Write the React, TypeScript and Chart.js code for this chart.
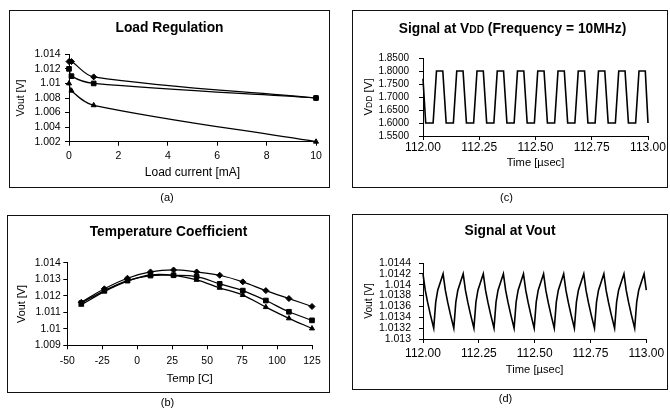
import React, { useEffect, useRef } from "react";
import { Chart, registerables } from "chart.js";

Chart.register(...registerables);

const FONT = "'Liberation Sans', Arial, Helvetica, sans-serif";

// ---------- (a) Load Regulation ----------
const loadCurrent = [0, 0.1, 1, 10];
const loadDiamond = [1.013, 1.013, 1.0109, 1.008];
const loadSquare = [1.012, 1.011, 1.01, 1.008];
const loadTriangle = [1.01, 1.009, 1.007, 1.002];
const loadXTicks = [0, 2, 4, 6, 8, 10];
const loadYTicks = [1.002, 1.004, 1.006, 1.008, 1.01, 1.012, 1.014];

// ---------- (b) Temperature Coefficient ----------
const temps = [-40, -23.5, -7, 9.5, 26, 42.5, 59, 75.5, 92, 108.5, 125];
const tempDiamond = [1.0116, 1.01242, 1.01306, 1.01344, 1.01356, 1.01344, 1.01324, 1.01284, 1.01231, 1.01183, 1.01135];
const tempSquare = [1.01155, 1.01231, 1.01292, 1.01322, 1.01324, 1.01316, 1.01272, 1.01231, 1.01171, 1.01103, 1.01051];
const tempTriangle = [1.01145, 1.01225, 1.01288, 1.01326, 1.01324, 1.01296, 1.01248, 1.01204, 1.01131, 1.01063, 1.01002];
const tempXTicks = [-50, -25, 0, 25, 50, 75, 100, 125];
const tempYTicks = [1.009, 1.01, 1.011, 1.012, 1.013, 1.014];

// ---------- (c) Signal at VDD ----------
const vddTime = [
  112.0, 112.012,
  112.045, 112.06, 112.088, 112.103,
  112.135, 112.15, 112.178, 112.193,
  112.225, 112.24, 112.268, 112.283,
  112.315, 112.33, 112.358, 112.373,
  112.405, 112.42, 112.448, 112.463,
  112.495, 112.51, 112.538, 112.553,
  112.585, 112.6, 112.628, 112.643,
  112.675, 112.69, 112.718, 112.733,
  112.765, 112.78, 112.808, 112.823,
  112.855, 112.87, 112.898, 112.913,
  112.945, 112.96, 112.988, 113.0,
];
const vddValue = [
  1.77, 1.6,
  1.6, 1.8, 1.8, 1.6,
  1.6, 1.8, 1.8, 1.6,
  1.6, 1.8, 1.8, 1.6,
  1.6, 1.8, 1.8, 1.6,
  1.6, 1.8, 1.8, 1.6,
  1.6, 1.8, 1.8, 1.6,
  1.6, 1.8, 1.8, 1.6,
  1.6, 1.8, 1.8, 1.6,
  1.6, 1.8, 1.8, 1.6,
  1.6, 1.8, 1.8, 1.6,
  1.6, 1.8, 1.8, 1.6,
];
const timeXTicks = [112.0, 112.25, 112.5, 112.75, 113.0];
const vddYTicks = [1.55, 1.6, 1.65, 1.7, 1.75, 1.8, 1.85];

// ---------- (d) Signal at Vout ----------
const voutTime = [
  112.0, 112.01, 112.021, 112.033, 112.048, 112.057, 112.066, 112.078,
  112.09, 112.1, 112.111, 112.123, 112.138, 112.147, 112.156, 112.168,
  112.18, 112.19, 112.201, 112.213, 112.228, 112.237, 112.246, 112.258,
  112.27, 112.28, 112.291, 112.303, 112.318, 112.327, 112.336, 112.348,
  112.36, 112.37, 112.381, 112.393, 112.408, 112.417, 112.426, 112.438,
  112.45, 112.46, 112.471, 112.483, 112.498, 112.507, 112.516, 112.528,
  112.54, 112.55, 112.561, 112.573, 112.588, 112.597, 112.606, 112.618,
  112.63, 112.64, 112.651, 112.663, 112.678, 112.687, 112.696, 112.708,
  112.72, 112.73, 112.741, 112.753, 112.768, 112.777, 112.786, 112.798,
  112.81, 112.82, 112.831, 112.843, 112.858, 112.867, 112.876, 112.888,
  112.9, 112.91, 112.921, 112.933, 112.948, 112.957, 112.966, 112.978,
  112.99, 113.0,
];
const voutValue = [
  1.0142, 1.0139, 1.01367, 1.01345, 1.0132, 1.01368, 1.0139, 1.01405,
  1.0142, 1.0139, 1.01367, 1.01345, 1.0132, 1.01368, 1.0139, 1.01405,
  1.0142, 1.0139, 1.01367, 1.01345, 1.0132, 1.01368, 1.0139, 1.01405,
  1.0142, 1.0139, 1.01367, 1.01345, 1.0132, 1.01368, 1.0139, 1.01405,
  1.0142, 1.0139, 1.01367, 1.01345, 1.0132, 1.01368, 1.0139, 1.01405,
  1.0142, 1.0139, 1.01367, 1.01345, 1.0132, 1.01368, 1.0139, 1.01405,
  1.0142, 1.0139, 1.01367, 1.01345, 1.0132, 1.01368, 1.0139, 1.01405,
  1.0142, 1.0139, 1.01367, 1.01345, 1.0132, 1.01368, 1.0139, 1.01405,
  1.0142, 1.0139, 1.01367, 1.01345, 1.0132, 1.01368, 1.0139, 1.01405,
  1.0142, 1.0139, 1.01367, 1.01345, 1.0132, 1.01368, 1.0139, 1.01405,
  1.0142, 1.0139, 1.01367, 1.01345, 1.0132, 1.01368, 1.0139, 1.01405,
  1.0142, 1.0139,
];
const voutYTicks = [1.013, 1.0132, 1.0134, 1.0136, 1.0138, 1.014, 1.0142, 1.0144];

// ---------- helpers ----------
type Box = { l: number; t: number; w: number; h: number };
type Plot = { l: number; t: number; r: number; b: number };
type Seg = { text: string; size: number };

const trim = (v: number, d: number) => String(parseFloat(Number(v).toFixed(d)));
const toXY = (xs: number[], ys: number[]) => xs.map((x, i) => ({ x, y: ys[i] }));

function drawRich(ctx: CanvasRenderingContext2D, segs: Seg[], cx: number, cy: number, rot: boolean, bold: boolean) {
  ctx.save();
  ctx.fillStyle = "#000";
  ctx.textBaseline = "alphabetic";
  ctx.textAlign = "left";
  ctx.translate(cx, cy);
  if (rot) ctx.rotate(-Math.PI / 2);
  const fonts = segs.map((s) => `${bold ? "bold " : ""}${s.size}px ${FONT}`);
  const widths = segs.map((s, i) => {
    ctx.font = fonts[i];
    return ctx.measureText(s.text).width;
  });
  const total = widths.reduce((a, b) => a + b, 0);
  const maxSize = Math.max(...segs.map((s) => s.size));
  let x = -total / 2;
  segs.forEach((s, i) => {
    ctx.font = fonts[i];
    ctx.fillText(s.text, x, maxSize * 0.36);
    x += widths[i];
  });
  ctx.restore();
}

interface AxisSpec {
  min: number;
  max: number;
  ticks: number[];
  fmt: (v: number) => string;
  tickSize: number;
  tickPad: number;
  title?: string;
  titleSize: number;
  titleOffset: number;
}

interface ChartSpec {
  box: Box;
  plot: Plot;
  title?: string;
  titleSize: number;
  titleCenter: number;
  x: AxisSpec;
  y: AxisSpec;
  datasets: any[];
  extra?: (ctx: CanvasRenderingContext2D, w: number, h: number) => void;
}

function buildConfig(s: ChartSpec): any {
  const W = s.box.w;
  const H = s.box.h;
  const side = W - s.plot.r;
  const tLH = s.titleSize * 1.2;
  const xLH = s.x.titleSize * 1.2;
  const yLH = s.y.titleSize * 1.2;
  const axisCommon = {
    grid: { drawOnChartArea: false, drawTicks: true, tickLength: 4, color: "#000", lineWidth: 1 },
    border: { display: true, color: "#000", width: 1 },
  };
  return {
    type: "line",
    data: { datasets: s.datasets },
    options: {
      responsive: true,
      maintainAspectRatio: false,
      animation: false,
      events: [],
      layout: { padding: { left: side, right: side, top: s.title ? 0 : s.plot.t, bottom: 0 } },
      plugins: {
        legend: { display: false },
        tooltip: { enabled: false },
        title: s.title
          ? {
              display: true,
              text: s.title,
              color: "#000",
              font: { family: FONT, size: s.titleSize, weight: "bold", lineHeight: 1.2 },
              padding: { top: s.titleCenter - tLH / 2, bottom: s.plot.t - s.titleCenter - tLH / 2 },
            }
          : { display: false },
      },
      scales: {
        x: {
          type: "linear",
          position: "bottom",
          min: s.x.min,
          max: s.x.max,
          afterBuildTicks: (sc: any) => {
            sc.ticks = s.x.ticks.map((v) => ({ value: v }));
          },
          afterFit: (sc: any) => {
            sc.height = H - s.plot.b;
          },
          ...axisCommon,
          ticks: {
            color: "#000",
            font: { family: FONT, size: s.x.tickSize },
            padding: s.x.tickPad,
            maxRotation: 0,
            autoSkip: false,
            callback: (v: any) => s.x.fmt(Number(v)),
          },
          title: {
            display: !!s.x.title,
            text: s.x.title || "",
            color: "#000",
            font: { family: FONT, size: s.x.titleSize, lineHeight: 1.2 },
            padding: { top: 0, bottom: s.x.titleOffset - xLH / 2 },
          },
        },
        y: {
          type: "linear",
          position: "left",
          min: s.y.min,
          max: s.y.max,
          afterBuildTicks: (sc: any) => {
            sc.ticks = s.y.ticks.map((v) => ({ value: v }));
          },
          afterFit: (sc: any) => {
            sc.width = s.plot.l - side;
          },
          ...axisCommon,
          ticks: {
            color: "#000",
            font: { family: FONT, size: s.y.tickSize },
            padding: s.y.tickPad,
            autoSkip: false,
            callback: (v: any) => s.y.fmt(Number(v)),
          },
          title: {
            display: !!s.y.title,
            text: s.y.title || "",
            color: "#000",
            font: { family: FONT, size: s.y.titleSize, lineHeight: 1.2 },
            padding: { top: s.y.titleOffset - side - yLH / 2, bottom: 0 },
          },
        },
      },
    },
    plugins: s.extra
      ? [
          {
            id: "richText",
            afterDraw(chart: any) {
              s.extra!(chart.ctx, chart.width, chart.height);
            },
          },
        ]
      : [],
  };
}

function markerSeries(xs: number[], ys: number[], style: string, radius: number) {
  return {
    data: toXY(xs, ys),
    borderColor: "#000",
    borderWidth: 1.25,
    backgroundColor: "#000",
    pointBackgroundColor: "#000",
    pointBorderColor: "#000",
    pointBorderWidth: 1,
    pointStyle: style,
    pointRadius: radius,
    tension: 0.35,
    clip: false,
  };
}

function traceSeries(xs: number[], ys: number[]) {
  return {
    data: toXY(xs, ys),
    borderColor: "#000",
    borderWidth: 1.6,
    pointRadius: 0,
    tension: 0,
    clip: false,
  };
}

const specA: ChartSpec = {
  box: { l: 9, t: 10, w: 321, h: 178 },
  plot: { l: 60, t: 44.3, r: 307, b: 131.7 },
  title: "Load Regulation",
  titleSize: 13.8,
  titleCenter: 17.7,
  x: { min: 0, max: 10, ticks: loadXTicks, fmt: (v) => trim(v, 2), tickSize: 10.5, tickPad: 4.5, title: "Load current [mA]", titleSize: 12, titleOffset: 15 },
  y: { min: 1.002, max: 1.014, ticks: loadYTicks, fmt: (v) => trim(v, 4), tickSize: 10.5, tickPad: 4.3, title: "Vout [V]", titleSize: 10.5, titleOffset: 12 },
  datasets: [
    markerSeries(loadCurrent, loadDiamond, "rectRot", 3),
    markerSeries(loadCurrent, loadSquare, "rect", 3.3),
    markerSeries(loadCurrent, loadTriangle, "triangle", 2.9),
  ],
};

const specB: ChartSpec = {
  box: { l: 7, t: 215, w: 323, h: 178 },
  plot: { l: 60.3, t: 47.7, r: 305, b: 130.3 },
  title: "Temperature Coefficient",
  titleSize: 13.8,
  titleCenter: 17.3,
  x: { min: -50, max: 125, ticks: tempXTicks, fmt: (v) => trim(v, 2), tickSize: 10.4, tickPad: 6, title: "Temp [C]", titleSize: 11.6, titleOffset: 14 },
  y: { min: 1.009, max: 1.014, ticks: tempYTicks, fmt: (v) => trim(v, 4), tickSize: 10.4, tickPad: 2.6, title: "Vout [V]", titleSize: 10.8, titleOffset: 15.5 },
  datasets: [
    markerSeries(temps, tempDiamond, "rectRot", 3),
    markerSeries(temps, tempSquare, "rect", 3.3),
    markerSeries(temps, tempTriangle, "triangle", 2.9),
  ],
};

const specC: ChartSpec = {
  box: { l: 352, t: 10, w: 316, h: 178 },
  plot: { l: 71, t: 48, r: 296, b: 126 },
  titleSize: 13.8,
  titleCenter: 18.3,
  x: { min: 112, max: 113, ticks: timeXTicks, fmt: (v) => v.toFixed(2), tickSize: 12, tickPad: 0, title: "Time [\u00b5sec]", titleSize: 11.2, titleOffset: 24.7 },
  y: { min: 1.55, max: 1.85, ticks: vddYTicks, fmt: (v) => v.toFixed(4), tickSize: 10, tickPad: 10, titleSize: 11, titleOffset: 16.3 },
  datasets: [traceSeries(vddTime, vddValue)],
  extra: (ctx, w) => {
    drawRich(
      ctx,
      [
        { text: "Signal at V", size: 13.8 },
        { text: "DD", size: 10.2 },
        { text: " (Frequency = 10MHz)", size: 13.8 },
      ],
      w / 2 + 2.5,
      18.3,
      false,
      true
    );
    drawRich(
      ctx,
      [
        { text: "V", size: 11.5 },
        { text: "DD", size: 8.5 },
        { text: " [V]", size: 11.5 },
      ],
      16.3,
      87,
      true,
      false
    );
  },
};

const specD: ChartSpec = {
  box: { l: 352, t: 214, w: 316, h: 176 },
  plot: { l: 71, t: 49, r: 296, b: 125 },
  title: "Signal at Vout",
  titleSize: 13.8,
  titleCenter: 17,
  x: { min: 112, max: 113, ticks: timeXTicks, fmt: (v) => v.toFixed(2), tickSize: 12, tickPad: 3.8, title: "Time [\u00b5sec]", titleSize: 11.2, titleOffset: 20.3 },
  y: { min: 1.013, max: 1.0144, ticks: voutYTicks, fmt: (v) => trim(v, 4), tickSize: 10.5, tickPad: 8, title: "Vout [V]", titleSize: 10.2, titleOffset: 17 },
  datasets: [traceSeries(voutTime, voutValue)],
};

function ChartPanel({ spec }: { spec: ChartSpec }) {
  const ref = useRef<HTMLCanvasElement>(null);
  useEffect(() => {
    const chart = new Chart(ref.current as HTMLCanvasElement, buildConfig(spec));
    return () => chart.destroy();
  }, [spec]);
  const b = spec.box;
  return (
    <>
      <div style={{ position: "absolute", left: b.l, top: b.t, width: b.w, height: b.h }}>
        <canvas ref={ref} />
      </div>
      <div
        style={{
          position: "absolute",
          left: b.l,
          top: b.t,
          width: b.w,
          height: b.h,
          border: "1.6px solid #111",
          boxSizing: "border-box",
          pointerEvents: "none",
        }}
      />
    </>
  );
}

function Caption({ text, cx, cy }: { text: string; cx: number; cy: number }) {
  return (
    <div
      style={{
        position: "absolute",
        left: cx - 30,
        top: cy - 7,
        width: 60,
        height: 14,
        lineHeight: "14px",
        textAlign: "center",
        fontFamily: FONT,
        fontSize: 11,
        color: "#000",
      }}
    >
      {text}
    </div>
  );
}

export default function App() {
  return (
    <div
      style={{
        position: "absolute",
        left: 0,
        top: 0,
        width: 670,
        height: 411,
        background: "#fff",
        overflow: "hidden",
      }}
    >
      <ChartPanel spec={specA} />
      <ChartPanel spec={specB} />
      <ChartPanel spec={specC} />
      <ChartPanel spec={specD} />
      <Caption text="(a)" cx={167} cy={197} />
      <Caption text="(b)" cx={167.5} cy={402} />
      <Caption text="(c)" cx={506.5} cy={197} />
      <Caption text="(d)" cx={505.5} cy={398} />
    </div>
  );
}
